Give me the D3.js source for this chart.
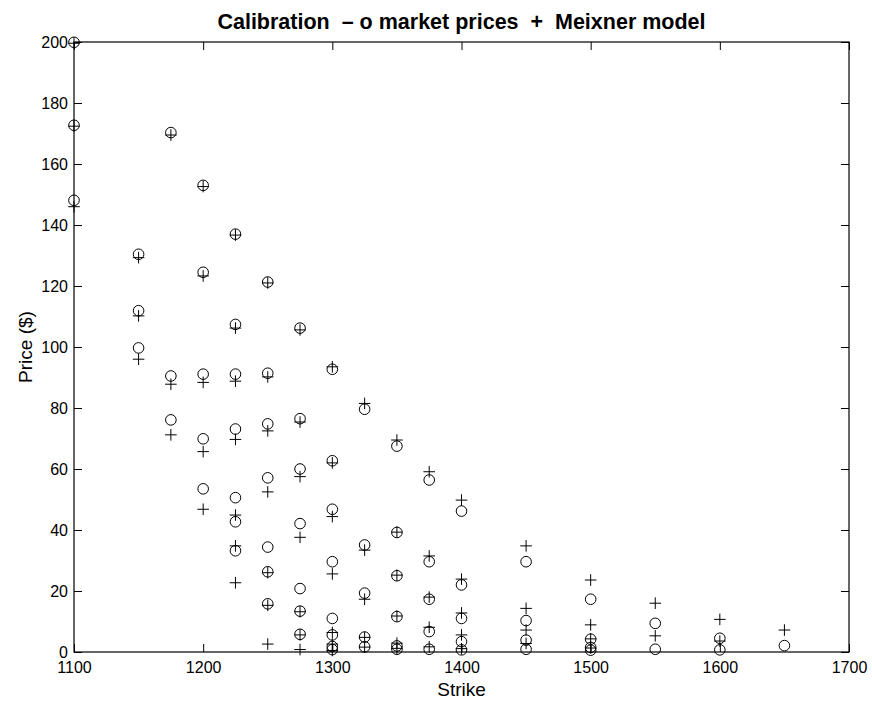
<!DOCTYPE html>
<html>
<head>
<meta charset="utf-8">
<script src="https://cdn.jsdelivr.net/npm/d3@7"></script>
<style>
  html, body { margin: 0; padding: 0; background: #fff; }
  svg { display: block; font-family: "Liberation Sans", Arial, Helvetica, sans-serif; }
</style>
</head>
<body>
<svg id="chart" width="872" height="702"></svg>
<script>
// Option strikes and the prices quoted at each strike (one entry per maturity)
const strikes = [1100, 1150, 1175, 1200, 1225, 1250, 1275, 1300, 1325, 1350, 1375, 1400, 1450, 1500, 1550, 1600, 1650];

// Observed market prices at each strike
const marketPrices = [
  [199.9, 172.7, 148.1],
  [130.4, 111.9, 99.7],
  [170.3, 90.5, 76.1],
  [153.0, 124.5, 91.1, 69.9, 53.5],
  [137.0, 107.4, 91.1, 73.1, 50.6, 42.7, 33.2],
  [121.3, 91.4, 74.8, 57.1, 34.4, 26.3, 15.8],
  [106.2, 76.5, 60.0, 42.1, 20.8, 13.4, 5.8],
  [92.7, 62.7, 46.8, 29.6, 11.0, 5.6, 1.8, 0.8],
  [79.6, 35.1, 19.3, 4.9, 1.7],
  [67.5, 39.2, 25.0, 11.6, 2.0, 0.9],
  [56.4, 29.6, 17.3, 6.7, 0.9],
  [46.2, 22.0, 11.0, 3.4, 0.7],
  [29.6, 10.3, 3.9, 0.9],
  [17.3, 4.2, 1.5, 0.6],
  [9.4, 0.9],
  [4.5, 0.7],
  [2.1]
];

// Prices produced by the calibrated Meixner model at the same strikes
const modelPrices = [
  [199.6, 172.4, 146.0],
  [129.3, 110.2, 96.0],
  [169.5, 87.8, 71.2],
  [152.6, 123.3, 88.4, 65.7, 46.8],
  [136.7, 106.2, 88.8, 69.7, 44.9, 34.8, 22.7],
  [121.0, 90.2, 72.5, 52.5, 26.0, 15.3, 2.6],
  [105.6, 75.4, 57.5, 37.6, 13.2, 5.6, 0.8],
  [93.5, 62.0, 44.4, 25.6, 6.4, 2.6, 0.5],
  [81.5, 33.4, 17.3, 4.8, 1.6],
  [69.5, 39.3, 25.2, 11.8, 2.9, 1.2],
  [59.1, 31.5, 18.0, 8.1, 1.7],
  [49.8, 23.9, 12.8, 5.6, 1.1],
  [34.8, 14.3, 7.2, 2.8],
  [23.6, 8.9, 4.3, 1.3],
  [16.0, 5.3],
  [10.7, 3.6],
  [7.2]
];

const xTicks = [1100, 1200, 1300, 1400, 1500, 1600, 1700];
const yTicks = [0, 20, 40, 60, 80, 100, 120, 140, 160, 180, 200];

const titleText = "Calibration  \u2013 o market prices  +  Meixner model";
const xLabel = "Strike";
const yLabel = "Price ($)";

// Layout
const W = 872, H = 702;
const margin = { left: 74, right: 23, top: 42, bottom: 50 };
const plotW = W - margin.left - margin.right;
const plotH = H - margin.top - margin.bottom;

const svg = d3.select("#chart");
const g = svg.append("g").attr("transform", `translate(${margin.left},${margin.top})`);

const x = d3.scaleLinear().domain([1100, 1700]).range([0, plotW]);
const y = d3.scaleLinear().domain([0, 200]).range([plotH, 0]);

const tickLen = 8;
const tickFont = "16px";

// Axes: ticks pointing inward on all four sides
const axisBottom = d3.axisBottom(x).tickValues(xTicks).tickSizeInner(-tickLen).tickSizeOuter(0).tickPadding(10).tickFormat(d3.format("d"));
const axisTop = d3.axisTop(x).tickValues(xTicks).tickSizeInner(-tickLen).tickSizeOuter(0).tickFormat("");
const axisLeft = d3.axisLeft(y).tickValues(yTicks).tickSizeInner(-tickLen).tickSizeOuter(0).tickPadding(6).tickFormat(d3.format("d"));
const axisRight = d3.axisRight(y).tickValues(yTicks).tickSizeInner(-tickLen).tickSizeOuter(0).tickFormat("");

function styleAxis(sel) {
  sel.select(".domain").remove();
  sel.selectAll(".tick line").attr("stroke", "#000").attr("stroke-width", 1);
  sel.selectAll(".tick text").attr("fill", "#000").style("font-size", tickFont);
}

g.append("g").attr("transform", `translate(0,${plotH})`).call(axisBottom).call(styleAxis);
g.append("g").call(axisTop).call(styleAxis);
g.append("g").call(axisLeft).call(styleAxis);
g.append("g").attr("transform", `translate(${plotW},0)`).call(axisRight).call(styleAxis);

// Plot box
g.append("rect")
  .attr("x", 0).attr("y", 0).attr("width", plotW).attr("height", plotH)
  .attr("fill", "none").attr("stroke", "#000").attr("stroke-width", 1.2);

// Flatten into point lists
const marketPts = strikes.flatMap((k, i) => marketPrices[i].map(p => ({ k, p })));
const modelPts = strikes.flatMap((k, i) => modelPrices[i].map(p => ({ k, p })));

// Market prices as open circles
g.append("g").selectAll("circle").data(marketPts).join("circle")
  .attr("cx", d => x(d.k)).attr("cy", d => y(d.p)).attr("r", 5.3)
  .attr("fill", "none").attr("stroke", "#000").attr("stroke-width", 1);

// Model prices as plus signs
const arm = 5.8;
g.append("g").selectAll("path").data(modelPts).join("path")
  .attr("d", d => {
    const cx = x(d.k), cy = y(d.p);
    return `M${cx - arm},${cy}H${cx + arm}M${cx},${cy - arm}V${cy + arm}`;
  })
  .attr("fill", "none").attr("stroke", "#000").attr("stroke-width", 1);

// Title and axis labels
svg.append("text")
  .attr("x", margin.left + plotW / 2).attr("y", 29)
  .attr("text-anchor", "middle")
  .style("font-size", "21.5px").style("font-weight", "bold")
  .attr("xml:space", "preserve")
  .style("white-space", "pre")
  .text(titleText);

svg.append("text")
  .attr("x", margin.left + plotW / 2).attr("y", 696)
  .attr("text-anchor", "middle")
  .style("font-size", "19px")
  .text(xLabel);

svg.append("text")
  .attr("transform", `translate(32,${margin.top + plotH / 2}) rotate(-90)`)
  .attr("text-anchor", "middle")
  .style("font-size", "19px")
  .text(yLabel);
</script>
</body>
</html>
